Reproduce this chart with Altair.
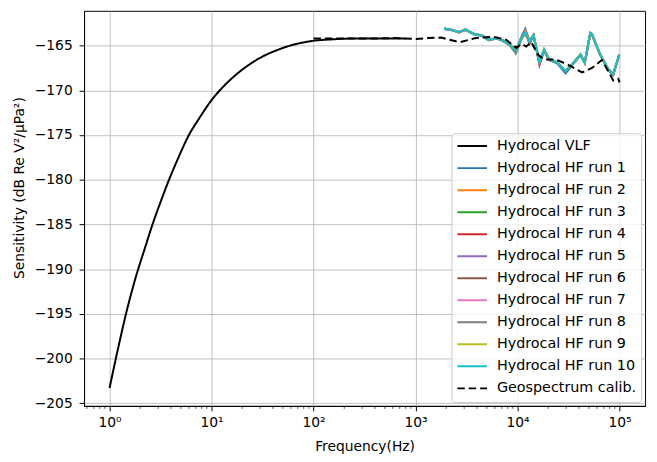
import altair as alt
import pandas as pd

# ---------------- data ----------------
vlf_freq = [1, 1.2, 1.45, 1.84, 2.2, 2.62, 3.16, 3.8, 4.7, 6.0, 7.5, 10, 13, 18, 25,
            32.5, 45, 55, 75, 100, 150, 250, 400, 600, 800]
vlf_sens = [-203.3, -199.1, -195.0, -190.6, -187.8, -185.1, -182.5, -180.1, -177.6, -175.0,
            -173.2, -171.1, -169.6, -168.1, -166.9, -166.15, -165.45, -165.1, -164.7, -164.45,
            -164.3, -164.2, -164.2, -164.2, -164.2]

geo_freq = [100, 200, 400, 631, 1000, 1318, 1778, 2483, 2754, 3890, 5821, 7762, 9772, 10965,
            12190, 13614, 15849, 18197, 23714, 30903, 42954, 53703, 66988, 80538, 86696,
            97051, 100000]
geo_sens = [-164.2, -164.2, -164.2, -164.15, -164.25, -164.15, -164.1, -164.5, -164.6, -164.15,
            -164.0, -164.35, -165.25, -164.8, -165.1, -164.6, -166.0, -166.55, -166.55, -167.1,
            -168.0, -167.5, -166.6, -168.2, -168.9, -168.7, -169.1]

hf_freq = [1914, 2218, 2673, 3090, 3724, 4487, 5200, 6266, 7261, 8433, 9616, 10914, 11912,
           13122, 14355, 16406, 18197, 20417, 24547, 29512, 35481, 41400, 45604, 51642, 53500,
           64565, 77625, 86696, 99300]

hf_run1 = [-163.15, -163.25, -163.5, -163.2, -163.75, -163.9, -164.35, -164.2, -164.5, -164.95,
           -165.5, -164.0, -163.1, -164.5, -163.85, -166.95, -165.5, -166.6, -167.0, -168.1,
           -167.0, -166.05, -166.95, -163.55, -163.65, -166.05, -167.7, -168.3, -166.05]
hf_run2 = [-163.1, -163.2, -163.55, -163.25, -163.7, -163.85, -164.3, -164.15, -164.45, -164.85,
           -165.4, -164.3, -163.3, -164.4, -163.8, -166.8, -165.4, -166.5, -166.9, -167.8,
           -166.85, -165.95, -166.85, -163.65, -163.75, -165.95, -167.6, -168.15, -166.0]
hf_run3 = [-163.05, -163.2, -163.5, -163.2, -163.65, -163.85, -164.35, -164.15, -164.4, -164.9,
           -165.55, -164.2, -163.55, -164.6, -163.85, -166.85, -165.45, -166.55, -166.85, -167.8,
           -166.9, -166.0, -166.9, -163.6, -163.7, -166.0, -167.6, -168.2, -166.0]
hf_run4 = [-163.1, -163.25, -163.5, -163.2, -163.7, -163.9, -164.4, -164.2, -164.45, -164.9,
           -165.6, -164.2, -163.6, -164.6, -163.9, -167.2, -165.6, -166.6, -166.95, -167.85,
           -166.95, -166.05, -166.9, -163.65, -163.75, -166.05, -167.7, -168.25, -166.05]
hf_run5 = [-163.15, -163.2, -163.45, -163.2, -163.7, -163.85, -164.35, -164.1, -164.45, -164.9,
           -165.65, -164.15, -163.5, -164.5, -163.8, -166.9, -165.5, -166.55, -166.9, -167.9,
           -166.9, -166.0, -166.9, -163.6, -163.7, -166.0, -167.65, -168.2, -166.0]
hf_run6 = [-163.1, -163.2, -163.5, -163.25, -163.7, -163.85, -164.35, -164.15, -164.5, -164.95,
           -165.7, -164.25, -163.6, -164.8, -163.9, -166.95, -165.5, -166.6, -166.9, -167.85,
           -166.9, -166.0, -166.95, -163.6, -163.7, -166.0, -167.65, -168.2, -166.0]
hf_run7 = [-163.1, -163.2, -163.5, -163.2, -163.7, -163.85, -164.35, -164.15, -164.45, -164.9,
           -165.6, -164.1, -163.45, -164.55, -163.8, -166.9, -165.45, -166.55, -166.9, -167.85,
           -166.9, -166.0, -166.9, -163.6, -163.7, -166.0, -167.65, -168.2, -166.0]
hf_run8 = [-163.1, -163.2, -163.5, -163.2, -163.7, -163.9, -164.4, -164.2, -164.5, -165.0,
           -165.9, -164.3, -163.6, -164.6, -163.85, -166.9, -165.5, -166.6, -166.9, -167.85,
           -166.9, -166.0, -166.9, -163.6, -163.7, -166.0, -167.65, -168.2, -166.0]
hf_run9 = [-163.1, -163.2, -163.5, -163.2, -163.7, -163.85, -164.35, -164.15, -164.45, -164.9,
           -165.55, -164.2, -163.55, -164.5, -163.85, -166.85, -165.45, -166.5, -166.9, -167.8,
           -166.9, -166.0, -166.9, -163.6, -163.7, -166.0, -167.65, -168.2, -166.0]
hf_run10 = [-163.1, -163.2, -163.5, -163.2, -163.7, -163.85, -164.35, -164.15, -164.45, -164.9,
            -165.6, -164.15, -163.5, -164.55, -163.8, -166.9, -165.45, -166.55, -166.9, -167.85,
            -166.9, -166.0, -166.9, -163.6, -163.7, -166.0, -167.65, -168.2, -166.0]

hf_runs = [hf_run1, hf_run2, hf_run3, hf_run4, hf_run5, hf_run6, hf_run7, hf_run8, hf_run9, hf_run10]
hf_names = ["Hydrocal HF run 1", "Hydrocal HF run 2", "Hydrocal HF run 3", "Hydrocal HF run 4",
            "Hydrocal HF run 5", "Hydrocal HF run 6", "Hydrocal HF run 7", "Hydrocal HF run 8",
            "Hydrocal HF run 9", "Hydrocal HF run 10"]

series_names = ["Hydrocal VLF"] + hf_names + ["Geospectrum calib."]
series_colors = ["#000000", "#1f77b4", "#ff7f0e", "#2ca02c", "#d62728", "#9467bd",
                 "#8c564b", "#e377c2", "#7f7f7f", "#bcbd22", "#17becf", "#000000"]
series_dash = [[1, 0]] * 11 + [[7.5, 4]]

x_tick_values = [1, 10, 100, 1000, 10000, 100000]
x_tick_labels = ["10\u2070", "10\u00b9", "10\u00b2", "10\u00b3", "10\u2074", "10\u2075"]
y_tick_values = [-205, -200, -195, -190, -185, -180, -175, -170, -165]
minor_ticks = [0.6, 0.7, 0.8, 0.9,
               2, 3, 4, 5, 6, 7, 8, 9,
               20, 30, 40, 50, 60, 70, 80, 90,
               200, 300, 400, 500, 600, 700, 800, 900,
               2000, 3000, 4000, 5000, 6000, 7000, 8000, 9000,
               20000, 30000, 40000, 50000, 60000, 70000, 80000, 90000]

# ---------------- table ----------------
rows = []
for f, v in zip(vlf_freq, vlf_sens):
    rows.append({"series": "Hydrocal VLF", "freq": f, "sens": v})
for name, run in zip(hf_names, hf_runs):
    for f, v in zip(hf_freq, run):
        rows.append({"series": name, "freq": f, "sens": v})
for f, v in zip(geo_freq, geo_sens):
    rows.append({"series": "Geospectrum calib.", "freq": f, "sens": v})
df = pd.DataFrame(rows)

W, H = 568, 400
FONT = "DejaVu Sans"

x_scale = alt.Scale(type="log", domain=[10 ** -0.25, 10 ** 5.25], nice=False)
y_scale = alt.Scale(domain=[-205.3, -161.1], nice=False, zero=False)
color_scale = alt.Scale(domain=series_names, range=series_colors)
dash_scale = alt.Scale(domain=series_names, range=series_dash)

label_expr = " : ".join(
    f"datum.value == {v} ? '{l}'" for v, l in zip(x_tick_values, x_tick_labels)
) + " : ''"

x_axis = alt.Axis(values=x_tick_values, labelExpr=label_expr, grid=True, gridColor="#b0b0b0",
                  gridWidth=0.8, tickSize=5, tickColor="black", domainColor="black",
                  labelColor="black", labelFontSize=14, labelFont=FONT,
                  labelBaseline="alphabetic", labelPadding=16,
                  labelFlush=False, title="Frequency(Hz)", titleFont=FONT, titleFontSize=14,
                  titleFontWeight="normal", titleColor="black",
                  titleBaseline="alphabetic", titleX=W / 2, titleY=45.5, titleAlign="center")
y_axis = alt.Axis(values=y_tick_values, grid=True, gridColor="#b0b0b0", gridWidth=0.8,
                  tickSize=5, tickColor="black", domainColor="black", labelColor="black",
                  labelFontSize=14, labelFont=FONT, labelPadding=7,
                  title="Sensitivity (dB Re V\u00b2/\u03bcPa\u00b2)", titleFont=FONT,
                  titleFontSize=14, titleFontWeight="normal", titleColor="black",
                  titleX=-65, titleY=179, titleAngle=270, titleAlign="center",
                  titleBaseline="middle")

legend = alt.Legend(title=None, orient="none", legendX=372, legendY=124,
                    symbolType="M-1,0H1", symbolSize=900, symbolStrokeWidth=2,
                    clipHeight=16, labelFontSize=14.5, labelFont=FONT, labelColor="black",
                    rowPadding=6.3, padding=5, labelOffset=9,
                    fillColor="rgba(255,255,255,0.8)", strokeColor="#cccccc",
                    cornerRadius=3)


def line_layer(name):
    props = {"strokeWidth": 2}
    if name == "Hydrocal VLF":
        props["interpolate"] = "monotone"
    return alt.Chart(df).transform_filter(alt.datum.series == name).mark_line(**props).encode(
        x=alt.X("freq:Q", scale=x_scale, axis=x_axis),
        y=alt.Y("sens:Q", scale=y_scale, axis=y_axis),
        color=alt.Color("series:N", scale=color_scale, legend=legend),
        strokeDash=alt.StrokeDash("series:N", scale=dash_scale, legend=legend),
    )


minor = alt.Chart(pd.DataFrame({"freq": minor_ticks})).mark_rule(
    color="black", strokeWidth=0.7).encode(
    x=alt.X("freq:Q", scale=x_scale, axis=x_axis),
    y=alt.value(H),
    y2=alt.value(H + 3),
)

layers = [line_layer(n) for n in series_names] + [minor]

chart = alt.layer(*layers).properties(
    width=W, height=H,
    autosize=alt.AutoSizeParams(type="none"),
    padding={"left": 77, "top": 0, "right": 4, "bottom": 54},
).configure(background="white").configure_view(stroke="black", strokeWidth=1)

chart.save("out.html", embed_options={"renderer": "svg", "actions": False})
